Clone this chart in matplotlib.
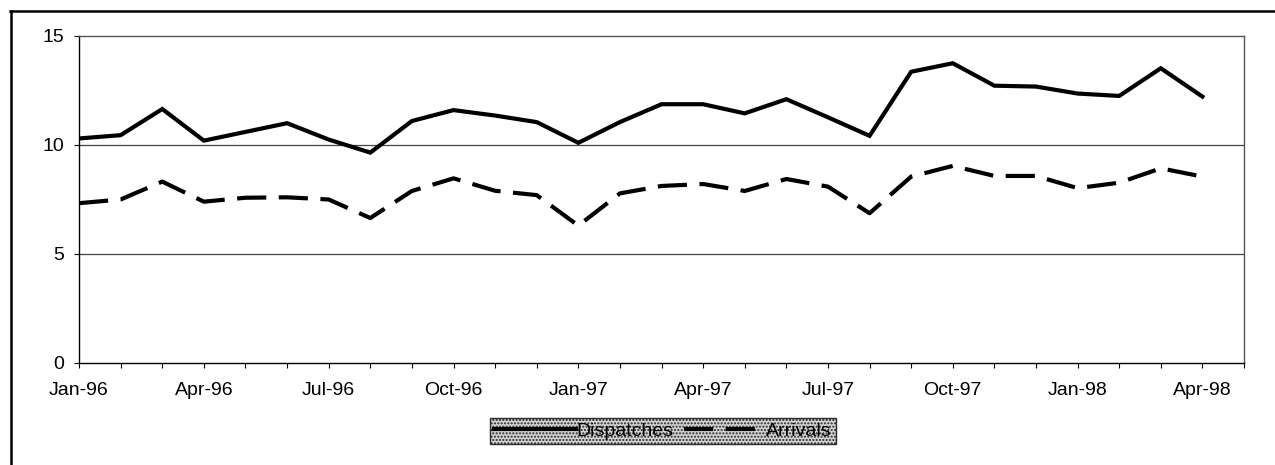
import matplotlib
matplotlib.use("Agg")
import matplotlib.pyplot as plt
from matplotlib.lines import Line2D

# monthly series, Jan-96 .. Apr-98
months = ["Jan-96", "Feb-96", "Mar-96", "Apr-96", "May-96", "Jun-96", "Jul-96",
          "Aug-96", "Sep-96", "Oct-96", "Nov-96", "Dec-96", "Jan-97", "Feb-97",
          "Mar-97", "Apr-97", "May-97", "Jun-97", "Jul-97", "Aug-97", "Sep-97",
          "Oct-97", "Nov-97", "Dec-97", "Jan-98", "Feb-98", "Mar-98", "Apr-98"]
dispatches = [10.3, 10.45, 11.65, 10.2, 10.6, 11.0, 10.25, 9.65, 11.1, 11.6,
              11.35, 11.05, 10.1, 11.05, 11.87, 11.87, 11.45, 12.1, 11.27, 10.42,
              13.36, 13.75, 12.72, 12.68, 12.36, 12.25, 13.52, 12.22]
arrivals = [7.33, 7.5, 8.32, 7.4, 7.58, 7.6, 7.5, 6.65, 7.89, 8.47,
            7.9, 7.7, 6.3, 7.78, 8.12, 8.21, 7.89, 8.44, 8.09, 6.87,
            8.55, 9.04, 8.58, 8.58, 8.02, 8.27, 8.93, 8.55]

plt.rcParams['font.family'] = ['Liberation Sans', 'DejaVu Sans']
fs = 14

fig = plt.figure(figsize=(12.75, 4.65), dpi=100)
ax = fig.add_axes([0.062, 0.2194, 0.9137, 0.7032])

x = list(range(len(months)))
ax.plot(x, dispatches, color='black', lw=3, solid_joinstyle='miter', label='Dispatches')
ax.plot(x, arrivals, color='black', lw=3, dashes=(7, 3), label='Arrivals')

ax.set_xlim(0, len(months))
ax.set_ylim(0, 15)
ax.set_yticks([0, 5, 10, 15])
ax.set_xticks(range(0, len(months) + 1))
ax.set_xticklabels([m if i % 3 == 0 else "" for i, m in
                    enumerate(months + [""])])
ax.tick_params(axis='both', direction='out', length=3.5, width=0.8,
               labelsize=fs, colors='black')
ax.tick_params(axis='x', pad=10)
ax.tick_params(axis='y', pad=7)
for y in [5, 10]:
    ax.axhline(y, color='#444444', lw=0.9, zorder=0)
for s in ['top', 'right']:
    ax.spines[s].set_color('#555555')
    ax.spines[s].set_linewidth(1.0)
for s in ['left', 'bottom']:
    ax.spines[s].set_color('black')
    ax.spines[s].set_linewidth(1.0)

# legend below the plot
leg = fig.legend(handles=[Line2D([], [], color='black', lw=3),
                          Line2D([], [], color='black', lw=3, dashes=(7, 3))],
                 labels=['Dispatches', 'Arrivals'],
                 loc='center', bbox_to_anchor=(0.52, 0.073), ncol=2,
                 handlelength=4.2, handletextpad=0.05, columnspacing=0.5,
                 fontsize=fs, frameon=True, fancybox=False,
                 borderpad=0.2, borderaxespad=0)
frame = leg.get_frame()
frame.set_facecolor('#c8c8c8')
frame.set_edgecolor('black')
frame.set_linewidth(1.0)
frame.set_hatch('.....')

# outer chart frame
fig.add_artist(Line2D([10 / 1275, 1.0], [1 - 11 / 465, 1 - 11 / 465],
                      transform=fig.transFigure, color='black', lw=1.8))
fig.add_artist(Line2D([11 / 1275, 11 / 1275], [0.0, 1 - 11 / 465],
                      transform=fig.transFigure, color='black', lw=1.8))

fig.savefig('out.png', dpi=100)
